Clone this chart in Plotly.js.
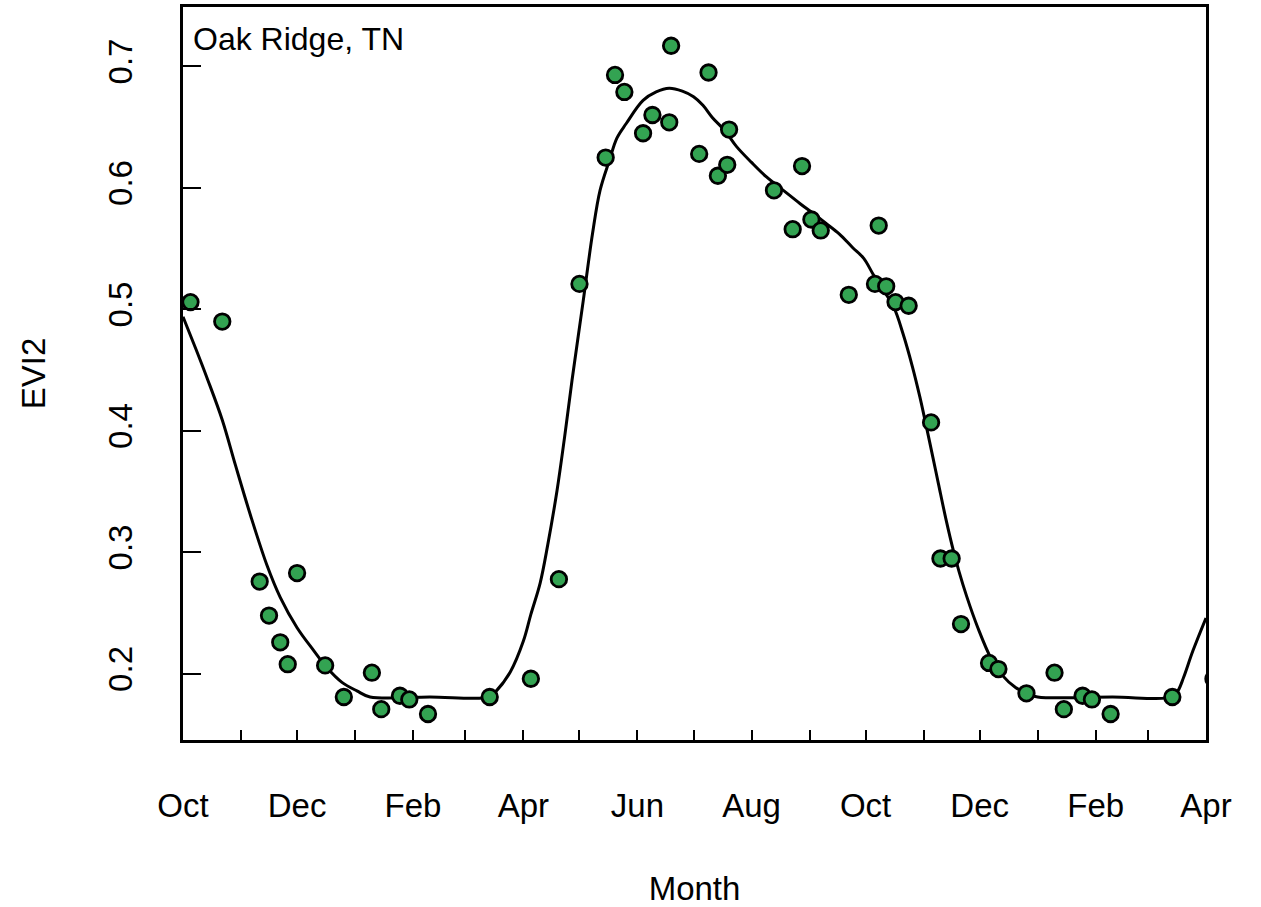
<!DOCTYPE html>
<html>
<head>
<meta charset="utf-8">
<script src="https://cdn.plot.ly/plotly-3.0.1.min.js"></script>
<style>html,body{margin:0;padding:0;background:#fff;}#chart{width:1261px;height:907px;}</style>
</head>
<body>
<div id="chart"></div>
<script>
// Observed EVI2 values
const obsDates = [
  '2009-10-05','2009-10-22','2009-11-11','2009-11-16','2009-11-22','2009-11-26','2009-12-01','2009-12-16',
  '2009-12-26','2010-01-10','2010-01-15','2010-01-25','2010-01-30','2010-02-09','2010-03-14','2010-04-05',
  '2010-04-20','2010-05-01','2010-05-15','2010-05-20','2010-05-25','2010-06-04','2010-06-09','2010-06-19',
  '2010-06-18','2010-07-04','2010-07-09','2010-07-14','2010-07-19','2010-07-20','2010-08-13','2010-08-23',
  '2010-08-28','2010-09-02','2010-09-07','2010-09-22','2010-10-06','2010-10-08','2010-10-12','2010-10-17',
  '2010-10-24','2010-11-05','2010-11-10','2010-11-16','2010-11-21','2010-12-06','2010-12-11','2010-12-26',
  '2011-01-10','2011-01-15','2011-01-25','2011-01-30','2011-02-09','2011-03-14','2011-04-05'
];
const obsEVI2 = [
  0.506,0.490,0.276,0.248,0.226,0.208,0.283,0.207,
  0.181,0.201,0.171,0.182,0.179,0.167,0.181,0.196,
  0.278,0.521,0.625,0.693,0.679,0.645,0.660,0.717,
  0.654,0.628,0.695,0.610,0.619,0.648,0.598,0.566,
  0.618,0.574,0.565,0.512,0.521,0.569,0.519,0.506,
  0.503,0.407,0.295,0.295,0.241,0.209,0.204,0.184,
  0.201,0.171,0.182,0.179,0.167,0.181,0.196
];
// Fitted curve
const fitDates = [
  '2009-10-01','2009-10-08','2009-10-14','2009-10-22','2009-10-29','2009-11-06','2009-11-15','2009-11-22',
  '2009-12-01','2009-12-10','2009-12-17','2009-12-25','2010-01-02','2010-01-09','2010-02-10','2010-03-14',
  '2010-03-17','2010-03-25','2010-04-01','2010-04-05','2010-04-10','2010-04-14','2010-04-19','2010-04-23',
  '2010-04-27','2010-05-03','2010-05-08','2010-05-12','2010-05-17','2010-05-21','2010-05-26','2010-06-04',
  '2010-06-11','2010-06-18','2010-06-25','2010-07-01','2010-07-06','2010-07-11','2010-07-18','2010-07-24',
  '2010-08-01','2010-08-09','2010-08-18','2010-08-27','2010-09-03','2010-09-10','2010-09-17','2010-09-24',
  '2010-09-30','2010-10-05','2010-10-10','2010-10-16','2010-10-21','2010-10-26','2010-10-30','2010-11-02',
  '2010-11-06','2010-11-09','2010-11-13','2010-11-17','2010-11-20','2010-11-24','2010-11-30','2010-12-07',
  '2010-12-13','2010-12-20','2010-12-26','2011-01-01','2011-02-10','2011-03-14','2011-03-17','2011-03-20',
  '2011-03-25','2011-04-01'
];
const fitEVI2 = [
  0.494,0.467,0.443,0.409,0.372,0.331,0.289,0.263,
  0.238,0.219,0.205,0.193,0.186,0.181,0.181,0.181,
  0.185,0.2016,0.227,0.249,0.275,0.306,0.351,0.3945,
  0.4415,0.507,0.5626,0.598,0.6227,0.641,0.653,0.672,
  0.679,0.682,0.6796,0.675,0.668,0.658,0.6466,0.634,
  0.621,0.609,0.598,0.587,0.579,0.5706,0.562,0.551,
  0.542,0.529,0.517,0.502,0.480,0.453,0.428,0.407,
  0.378,0.356,0.327,0.301,0.284,0.264,0.238,0.213,
  0.199,0.189,0.184,0.181,0.181,0.181,0.186,0.197,
  0.219,0.246
];
// Axis ticks
const monthTicks = [
  '2009-10-01','2009-11-01','2009-12-01','2010-01-01','2010-02-01','2010-03-01','2010-04-01','2010-05-01',
  '2010-06-01','2010-07-01','2010-08-01','2010-09-01','2010-10-01','2010-11-01','2010-12-01','2011-01-01',
  '2011-02-01','2011-03-01','2011-04-01'
];
const monthLabels = ['Oct','','Dec','','Feb','','Apr','','Jun','','Aug','','Oct','','Dec','','Feb','','Apr'];
const yTicks = [0.2,0.3,0.4,0.5,0.6,0.7];
const yTickLabels = ['0.2','0.3','0.4','0.5','0.6','0.7'];

const FONT = '"Liberation Sans", Arial, Helvetica, sans-serif';

const traces = [
  {
    x: fitDates, y: fitEVI2, type: 'scatter', mode: 'lines',
    line: {color: '#000000', width: 3, shape: 'spline', smoothing: 1},
    hoverinfo: 'skip', showlegend: false
  },
  {
    x: obsDates, y: obsEVI2, type: 'scatter', mode: 'markers',
    marker: {size: 15.5, color: '#33a352', line: {color: '#000000', width: 2.8}},
    cliponaxis: true, showlegend: false
  }
];

const layout = {
  width: 1261, height: 907,
  margin: {l: 183, r: 55, t: 7, b: 167},
  paper_bgcolor: '#ffffff', plot_bgcolor: '#ffffff',
  font: {family: FONT, size: 33, color: '#000000'},
  showlegend: false,
  xaxis: {
    type: 'date',
    range: ['2009-10-01', '2011-04-01'],
    tickmode: 'array', tickvals: monthTicks, ticktext: monthLabels,
    ticks: 'inside', ticklen: 10, tickwidth: 2, tickcolor: '#000000',
    showline: true, linewidth: 3, linecolor: '#000000', mirror: true,
    showgrid: false, zeroline: false,
    tickfont: {family: FONT, size: 33, color: '#000000'},
    ticklabelstandoff: 34,
    title: {text: 'Month', font: {family: FONT, size: 33, color: '#000000'}, standoff: 55},
    automargin: false
  },
  yaxis: {
    range: [0.1456, 0.7489],
    tickmode: 'array', tickvals: yTicks, ticktext: yTickLabels,
    tickangle: -90,
    ticks: 'inside', ticklen: 18, tickwidth: 2, tickcolor: '#000000',
    showline: true, linewidth: 3, linecolor: '#000000', mirror: true,
    showgrid: false, zeroline: false,
    tickfont: {family: FONT, size: 33, color: '#000000'},
    ticklabelstandoff: 35,
    title: {text: 'EVI2', font: {family: FONT, size: 33, color: '#000000'}, standoff: 47},
    automargin: false
  },
  annotations: [
    {
      text: 'Oak Ridge, TN', xref: 'paper', yref: 'paper',
      x: 0.008, y: 0.957, xanchor: 'left', yanchor: 'middle', showarrow: false,
      font: {family: FONT, size: 32, color: '#000000'}
    }
  ]
};

Plotly.newPlot('chart', traces, layout, {displayModeBar: false, staticPlot: true});
</script>
</body>
</html>
